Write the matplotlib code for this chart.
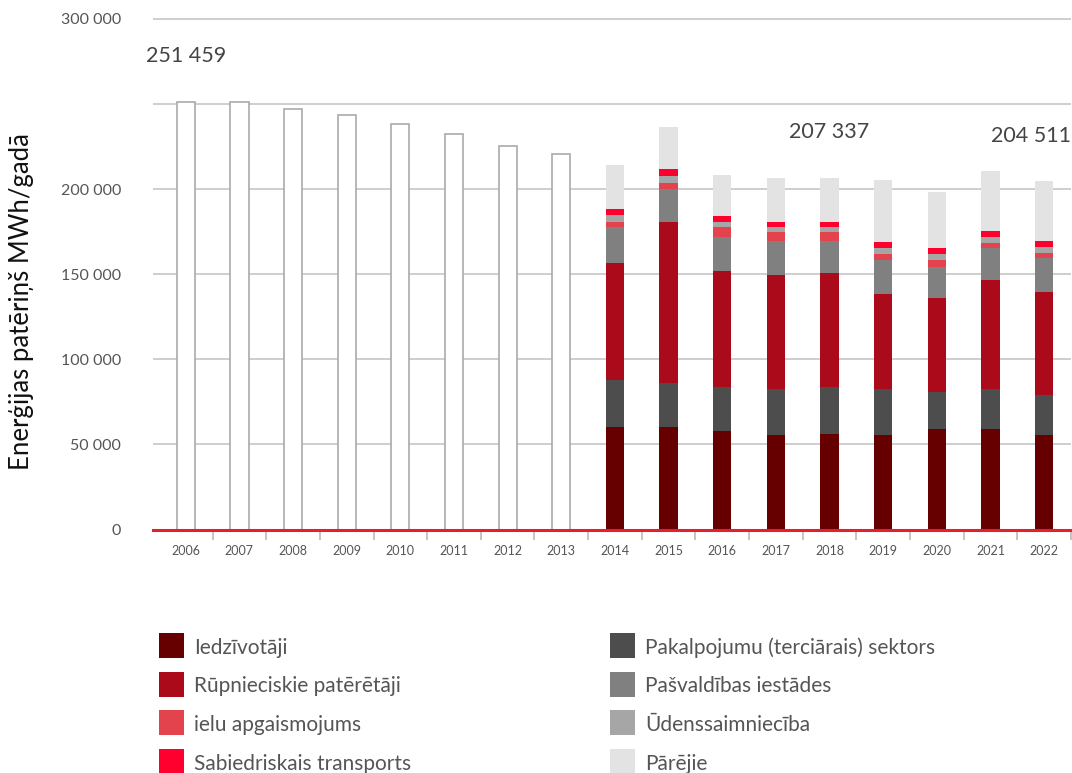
import numpy as np
import matplotlib.pyplot as plt
from matplotlib.patches import Rectangle

plt.rcParams['font.family'] = ['Lato', 'DejaVu Sans']

years = list(range(2006, 2023))

# 2006-2013: only totals known
old_totals = [251459, 251300, 246900, 243500, 238100, 232400, 225500, 220800]

# 2014-2022 by consumer group, MWh/year
iedzivotaji = [60200, 60200, 57900, 55500, 56100, 55500, 59000, 59000, 55500]
pakalpojumu = [27800, 25850, 25850, 27000, 27600, 27000, 21750, 23500, 23500]
rupnieciskie = [68550, 94600, 68150, 67000, 67000, 55800, 55200, 64050, 60500]
pasvaldibas = [21150, 19550, 19950, 19950, 18800, 19950, 18200, 18800, 19950]
ielu = [2950, 3350, 5900, 5300, 5300, 3550, 4100, 2950, 2950]
udens = [4100, 4100, 2950, 2950, 2950, 3500, 3550, 3500, 3550]
transports = [3500, 4100, 3500, 2950, 2950, 3500, 3500, 3550, 3500]
parejie = [25850, 24700, 24100, 25850, 25850, 36400, 32900, 35250, 35050]

series = [
    ('Iedzīvotāji', iedzivotaji, '#660000'),
    ('Pakalpojumu (terciārais) sektors', pakalpojumu, '#4d4d4d'),
    ('Rūpnieciskie patērētāji', rupnieciskie, '#aa0a1a'),
    ('Pašvaldības iestādes', pasvaldibas, '#808080'),
    ('ielu apgaismojums', ielu, '#e2434d'),
    ('Ūdenssaimniecība', udens, '#a6a6a6'),
    ('Sabiedriskais transports', transports, '#ff002e'),
    ('Pārējie', parejie, '#e3e3e3'),
]

label_years = [2006, 2018, 2022]
label_values = [251459, 207337, 204511]


def fmt(v):
    return f"{v:,}".replace(",", " ")


W, H = 1072, 773
fig = plt.figure(figsize=(W / 100, H / 100), dpi=100)
y0, ytop = 529.5, 15.5
ax = fig.add_axes([153 / W, 1 - y0 / H, (1071 - 153) / W, (y0 - ytop) / H])

bar_w = 0.34
x_old = np.arange(len(old_totals))
ax.bar(x_old, old_totals, width=bar_w, color='white', edgecolor='#aaaaaa',
       linewidth=1.2, zorder=2)

x_new = np.arange(len(old_totals), len(years))
bottom = np.zeros(len(x_new))
for name, vals, col in series:
    ax.bar(x_new, vals, width=bar_w, bottom=bottom, color=col,
           linewidth=0, label=name, zorder=2)
    bottom += np.array(vals)

ax.set_ylim(0, 302000)
ax.set_xlim(-0.61, 16.5)
ticks = list(range(0, 300001, 50000))
ax.set_yticks(ticks)
ax.set_yticklabels(['' if t == 250000 else fmt(t) for t in ticks])
ax.yaxis.grid(True, color='#c6c6c6', linewidth=1.2)
ax.set_axisbelow(True)
for s in ax.spines.values():
    s.set_visible(False)
ax.axhline(0, color='#e3202c', linewidth=2.2, zorder=3, clip_on=False)

ax.set_xticks(np.arange(len(years)))
ax.set_xticklabels([str(y) for y in years])
ax.set_xticks(np.arange(0.5, len(years), 1), minor=True)
ax.tick_params(axis='x', which='major', length=0, pad=11, labelsize=9,
               labelcolor='#555555')
ax.tick_params(axis='x', which='minor', length=7, width=1.2, color='#bbbbbb')
ax.tick_params(axis='y', length=0, pad=23, labelsize=11.5, labelcolor='#555555')

has = ['center', 'center', 'right']
for yr, v, ha in zip(label_years, label_values, has):
    xi = years.index(yr)
    if ha == 'right':
        xi = 16.5
    ax.text(xi, v + 26500, fmt(v), ha=ha, va='center', fontsize=15.5,
            color='#444444', clip_on=False)

fig.text(22 / W, 1 - 302 / H, 'Enerģijas patēriņš MWh/gadā', rotation=90,
         ha='center', va='center', fontsize=18.5, color='#111111')

# legend: two columns, four rows, drawn in pixel positions
order = [0, 2, 4, 6, 1, 3, 5, 7]
col_x = [159, 610]
for k, i in enumerate(order):
    name, _, col = series[i]
    c, r = divmod(k, 4)
    top = 633 + r * 38.7
    fig.add_artist(Rectangle((col_x[c] / W, 1 - (top + 25) / H), 25 / W, 25 / H,
                             transform=fig.transFigure, color=col, lw=0))
    fig.text((col_x[c] + 35) / W, 1 - (top + 12.5) / H, name, ha='left',
             va='center_baseline', fontsize=15, color='#555555')

fig.savefig('out.png', dpi=100)
